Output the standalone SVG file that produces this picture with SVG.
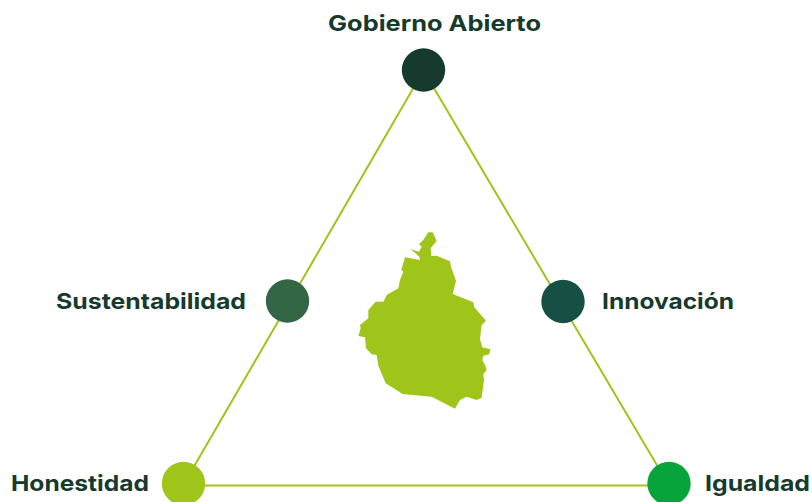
<svg xmlns="http://www.w3.org/2000/svg" width="812" height="502" viewBox="0 0 812 502">
<style>
.l{font-family:"Inter","Liberation Sans",sans-serif;font-weight:700;font-size:22px;fill:#173a2e}
.c{fill:none;stroke:#9fc51b;stroke-width:2}
</style>
<rect width="812" height="502" fill="#fff"/>
<g id="connectors">
<path class="c" d="M423.5 70.5L183 485.5H669Z"/>
</g>
<g id="map"><polygon fill="#9fc51b" transform="translate(340 220) scale(.3333)" points="265,37 278,37 290,63 272,85 274,108 290,107 330,124 333,140 348,182 338,222 400,247 403,262 438,302 425,315 420,358 427,382 451,388 448,403 430,407 427,420 436,437 440,450 430,462 432,480 425,533 410,540 380,530 360,540 345,566 275,530 188,522 137,490 115,437 110,405 95,403 78,385 75,352 55,348 62,325 60,315 85,295 85,270 107,245 130,245 140,225 175,205 180,180 190,155 184,150 195,112 240,120 238,110 212,87 237,95 245,80 237,72 250,60"/></g>
<g id="gobierno"><circle cx="423.5" cy="70" r="21.7" fill="#173a2e"/><text class="l" x="328" y="31" textLength="213" lengthAdjust="spacingAndGlyphs">Gobierno Abierto</text></g>
<g id="sustentabilidad"><circle cx="287.5" cy="301" r="21.7" fill="#336645"/><text class="l" x="56" y="309" textLength="190" lengthAdjust="spacingAndGlyphs">Sustentabilidad</text></g>
<g id="innovacion"><circle cx="563" cy="301.5" r="21.7" fill="#174f44"/><text class="l" x="602" y="309" textLength="132" lengthAdjust="spacingAndGlyphs">Innovación</text></g>
<g id="honestidad"><circle cx="183.500" cy="483.500" r="21.700" fill="#9fc51b"/><text class="l" x="11" y="491" textLength="138" lengthAdjust="spacingAndGlyphs">Honestidad</text></g>
<g id="igualdad"><circle cx="669" cy="483.500" r="21.700" fill="#07a33b"/><text class="l" x="705" y="491" textLength="105" lengthAdjust="spacingAndGlyphs">Igualdad</text></g>
</svg>
